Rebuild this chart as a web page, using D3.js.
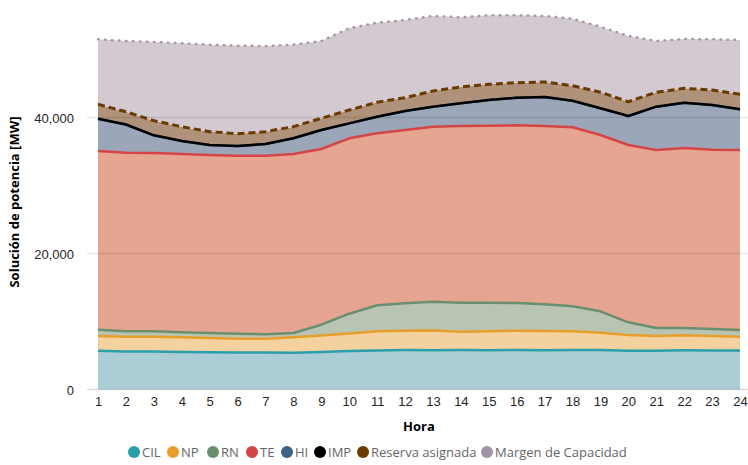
<!DOCTYPE html>
<html>
<head>
<meta charset="utf-8">
<script src="https://cdn.jsdelivr.net/npm/d3@7"></script>
<style>
  html, body { margin: 0; padding: 0; background: #fff; }
  svg { display: block; font-family: "Open Sans", "Noto Sans", sans-serif; }
</style>
</head>
<body>
<svg id="chart" width="748" height="465"></svg>
<script>
// ---- Data ----
const hours = [1,2,3,4,5,6,7,8,9,10,11,12,13,14,15,16,17,18,19,20,21,22,23,24];
const cil = [5700,5600,5600,5500,5480,5450,5450,5420,5500,5650,5740,5800,5780,5800,5790,5800,5780,5800,5800,5700,5700,5760,5740,5720];
const np = [2170,2160,2160,2180,2090,2020,2020,2260,2440,2590,2820,2850,2900,2700,2770,2850,2820,2760,2550,2310,2170,2210,2130,2040];
const rn = [920,800,800,730,740,740,650,630,1590,2910,3820,4030,4230,4270,4210,4070,3930,3670,3150,1870,1170,1070,1030,990];
const te = [26280,26270,26220,26220,26180,26180,26270,26320,25840,25790,25290,25480,25740,25980,26030,26130,26220,26330,25930,26080,26180,26470,26370,26470];
const hi = [4760,4140,2600,1910,1470,1420,1710,2310,2790,2200,2450,2800,2940,3340,3770,4060,4260,3910,3920,4260,6370,6670,6570,5990];
const imp = [0,0,0,0,0,0,0,0,0,0,0,0,0,0,0,0,0,0,0,0,0,0,0,0];
const reserva = [2110,1870,2150,2110,1950,1810,1810,1710,1720,1960,2120,1950,2310,2400,2310,2210,2210,2210,2360,2100,2120,2110,2200,2200];
const margen = [9560,10410,11570,12260,12800,12940,12600,12060,11370,12020,11700,11430,11030,10240,10150,9910,9710,9850,9640,9670,7540,7250,7460,7990];
const yTicks = [0, 20000, 40000];
const seriesNames = ["CIL","NP","RN","TE","HI","IMP","Reserva asignada","Margen de Capacidad"];
const seriesValues = [cil, np, rn, te, hi, imp, reserva, margen];

// ---- Styles ----
const lineColors = ["#2a9fac","#e89e2a","#6a8f6e","#d64545","#3f6185","#000000","#6b3a00","#a597a6"];
const fillColors = ["#abcdd5","#f3d2a0","#b9c4b3","#e6a590","#9ba7b8","#9ba7b8","#b0927a","#d2c9d1"];
const legendColors = ["#2a9fac","#e89e2a","#6a8f6e","#d64545","#3f6185","#000000","#6b3a00","#a094a4"];
const legendPos = [134,173,213,252,287,320,363,487];
const dashes = [null,null,null,null,null,null,"7,4","0.5,6.5"];
const widths = [2.5,2.5,2.5,2.5,2.5,2.5,3,2.5];

const svg = d3.select("#chart");
const x = d3.scaleLinear().domain([1,24]).range([98, 740]);
const y = d3.scaleLinear().domain([0,40000]).range([389.5, 117.5]);

const table = hours.map((h,i) => {
  const row = {hour: h};
  seriesNames.forEach((n,k) => row[n] = seriesValues[k][i]);
  return row;
});
const stacked = d3.stack().keys(seriesNames)(table);

const area = d3.area().x(d => x(d.data.hour)).y0(d => y(d[0])).y1(d => y(d[1]));
const line = d3.line().x(d => x(d.data.hour)).y(d => y(d[1]));

const g = svg.append("g");
stacked.forEach((s,k) => {
  g.append("path").attr("d", area(s)).attr("fill", fillColors[k]).attr("stroke","none");
});

// gridlines (over fills, faint)
svg.append("g").selectAll("line").data(yTicks).join("line")
  .attr("x1", 87).attr("x2", 748)
  .attr("y1", d => y(d)).attr("y2", d => y(d))
  .attr("stroke", "#000").attr("stroke-opacity", d => d === 0 ? 0.13 : 0.1).attr("stroke-width", 1.5);

const gl = svg.append("g");
stacked.forEach((s,k) => {
  const p = gl.append("path").attr("d", line(s)).attr("fill","none")
    .attr("stroke", lineColors[k]).attr("stroke-width", widths[k])
    .attr("stroke-linejoin","round");
  if (dashes[k]) p.attr("stroke-dasharray", dashes[k]);
  if (k === 7) p.attr("stroke-linecap","round");
});

// ---- Axes ----
const yAxis = svg.append("g").attr("transform","translate(77,0)")
  .call(d3.axisLeft(y).tickValues(yTicks).tickFormat(d3.format(",")).tickSize(0).tickPadding(0));
yAxis.select(".domain").remove();
yAxis.selectAll("text").attr("fill","#252423").style("font-size","13px").attr("dy","0.35em").attr("x",-3);

const xAxis = svg.append("g").attr("transform","translate(0,396)")
  .call(d3.axisBottom(x).tickValues(hours).tickFormat(d3.format("d")).tickSize(0).tickPadding(0));
xAxis.select(".domain").remove();
xAxis.selectAll("text").attr("fill","#252423").style("font-size","13px").attr("dy","0.75em");

svg.append("text").attr("x", 419).attr("y", 431).attr("text-anchor","middle")
  .style("font-size","13px").style("font-weight","bold").attr("fill","#000").text("Hora");
svg.append("text").attr("transform","translate(19,202) rotate(-90)").attr("text-anchor","middle")
  .style("font-size","13px").style("font-weight","bold").attr("fill","#000").text("Solución de potencia [MW]");

// ---- Legend ----
const legend = svg.append("g");
seriesNames.forEach((n,k) => {
  const item = legend.append("g").attr("transform", `translate(${legendPos[k]},452)`);
  item.append("circle").attr("r", 6).attr("fill", legendColors[k]);
  item.append("text").attr("x", 8).attr("dy","0.35em")
    .style("font-size","13px")
    .attr("fill","#666").text(n);
});
</script>
</body>
</html>
